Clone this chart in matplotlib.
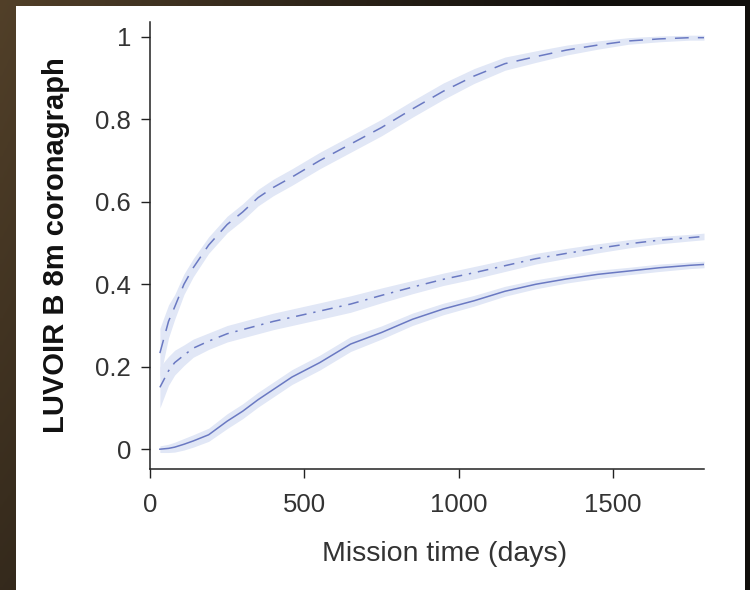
import matplotlib.pyplot as plt
import numpy as np
from matplotlib.patches import Rectangle

# data
days = [32, 60, 80, 110, 140, 190, 250, 300, 350, 400, 460, 550, 650,
        750, 850, 950, 1050, 1150, 1250, 1350, 1450, 1550, 1650, 1750, 1795]

dashed = [0.233, 0.31, 0.345, 0.40, 0.44, 0.495, 0.545, 0.575, 0.61, 0.635,
          0.66, 0.70, 0.74, 0.78, 0.825, 0.868, 0.905, 0.935, 0.952, 0.968,
          0.98, 0.99, 0.995, 0.998, 0.998]
dashed_err = [0.06, 0.04, 0.03, 0.025, 0.022, 0.02, 0.02, 0.02, 0.02, 0.02,
              0.02, 0.02, 0.02, 0.02, 0.02, 0.02, 0.018, 0.016, 0.014, 0.012,
              0.01, 0.008, 0.007, 0.006, 0.006]

dashdot = [0.15, 0.19, 0.21, 0.228, 0.245, 0.262, 0.28, 0.29, 0.30, 0.31,
           0.32, 0.335, 0.352, 0.373, 0.393, 0.412, 0.428, 0.445, 0.462,
           0.475, 0.487, 0.498, 0.507, 0.513, 0.516]
dashdot_err = [0.05, 0.035, 0.03, 0.025, 0.022, 0.02, 0.02, 0.02, 0.02, 0.02,
               0.02, 0.02, 0.02, 0.018, 0.016, 0.015, 0.015, 0.014, 0.013,
               0.012, 0.011, 0.01, 0.009, 0.008, 0.008]

solid = [0.0, 0.002, 0.005, 0.012, 0.02, 0.035, 0.068, 0.092, 0.12, 0.145,
         0.175, 0.21, 0.255, 0.283, 0.315, 0.34, 0.36, 0.383, 0.40, 0.413,
         0.424, 0.432, 0.44, 0.446, 0.448]
solid_err = [0.008, 0.01, 0.012, 0.014, 0.015, 0.016, 0.018, 0.018, 0.018,
             0.018, 0.018, 0.018, 0.018, 0.016, 0.015, 0.014, 0.013, 0.012,
             0.011, 0.01, 0.01, 0.009, 0.009, 0.008, 0.008]

xticks = [0, 500, 1000, 1500]
yticks = [0, 0.2, 0.4, 0.6, 0.8, 1]
ytick_labels = ['0', '0.2', '0.4', '0.6', '0.8', '1']

line_col = '#6a79c2'
band_col = '#e1e7f6'

plt.rcParams['font.family'] = ['Liberation Sans', 'DejaVu Sans']

fig = plt.figure(figsize=(7.5, 5.9), dpi=100)

# dark photo-like background with a white card on top
bg = fig.add_axes([0, 0, 1, 1], zorder=-2)
gx = np.linspace(0, 1, 200)
gy = np.linspace(0, 1, 200)
GX, GY = np.meshgrid(gx, gy)
shade = np.clip(1 - GX * 1.3, 0, 1) * (0.55 + 0.45 * (1 - GY))
img = np.zeros((200, 200, 3))
img[..., 0] = 0.07 + 0.25 * shade
img[..., 1] = 0.06 + 0.19 * shade
img[..., 2] = 0.05 + 0.11 * shade
bg.imshow(img, aspect='auto', extent=[0, 1, 0, 1], origin='upper')
bg.add_patch(Rectangle((16 / 750, 0), (745 - 16) / 750, 1 - 6 / 590,
                       facecolor='white', edgecolor='none'))
bg.set_xlim(0, 1)
bg.set_ylim(0, 1)
bg.axis('off')

ax = fig.add_axes([150 / 750, 1 - 469 / 590, (704 - 150) / 750, (469 - 22) / 590])
ax.patch.set_alpha(0)

x = np.array(days)
for vals, err, ls in [(dashed, dashed_err, (0, (9, 6))),
                      (dashdot, dashdot_err, (0, (7, 4.5, 1.5, 4.5))),
                      (solid, solid_err, '-')]:
    v = np.array(vals)
    e = np.array(err)
    ax.fill_between(x, v - e, v + e, color=band_col, lw=0)
    ax.plot(x, v, color=line_col, lw=1.1, linestyle=ls)

ax.set_xlim(0, 1795)
ax.set_ylim(-0.048, 1.036)
ax.set_xticks(xticks)
ax.set_yticks(yticks)
ax.set_yticklabels(ytick_labels)

for s in ['top', 'right']:
    ax.spines[s].set_visible(False)
for s in ['left', 'bottom']:
    ax.spines[s].set_linewidth(1.1)
    ax.spines[s].set_color('#222222')

ax.tick_params(axis='both', direction='out', length=6.5, width=1.0,
               color='#222222', labelsize=18.5, labelcolor='#333333')
ax.tick_params(axis='x', pad=11)
ax.tick_params(axis='y', pad=7)

ax.set_xlabel('Mission time (days)', fontsize=20.5, color='#333333', labelpad=17)
ax.xaxis.label.set_x(0.532)
ax.set_ylabel('LUVOIR B 8m coronagraph', fontsize=21, fontweight='bold',
              color='#111111', labelpad=18)

fig.savefig('out.png', dpi=100)
